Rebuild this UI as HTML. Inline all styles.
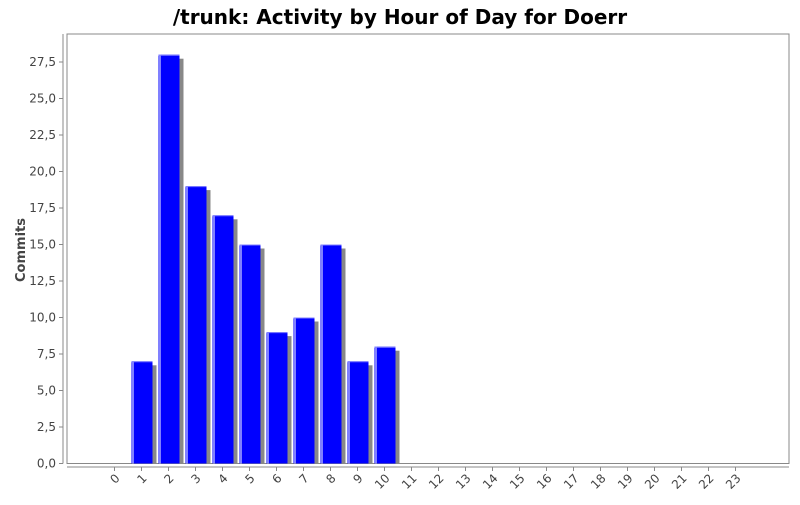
<!DOCTYPE html>
<html><head><meta charset="utf-8"><style>
body{margin:0;background:#fff;font-family:"Liberation Sans",sans-serif}
</style></head><body>
<svg id="c" width="800" height="500" xmlns="http://www.w3.org/2000/svg">
<text x="400" y="24" text-anchor="middle" font-size="20" font-weight="bold" font-family="DejaVu Sans, sans-serif">/trunk: Activity by Hour of Day for Doerr</text>
<text transform="translate(25,250) rotate(-90)" text-anchor="middle" font-size="13" font-weight="bold" fill="#444" font-family="DejaVu Sans, sans-serif">Commits</text>
<rect x="67" y="34" width="722" height="429.5" fill="#fff" stroke="#888"/>
<g id="g"></g>
</svg>
<script>
const categories=["0","1","2","3","4","5","6","7","8","9","10","11","12","13","14","15","16","17","18","19","20","21","22","23"];
const commits=[0,7,28,19,17,15,9,10,15,7,8,0,0,0,0,0,0,0,0,0,0,0,0,0];
const yTicks=[0,2.5,5,7.5,10,12.5,15,17.5,20,22.5,25,27.5];
const NS="http://www.w3.org/2000/svg";
const g=document.getElementById('g');
const y0=463.5, yS=(463.5-62)/27.5;
const yf=v=>y0-v*yS;
const xf=i=>114.5+i*27;
function el(t,a){const e=document.createElementNS(NS,t);for(const k in a)e.setAttribute(k,a[k]);g.appendChild(e);return e;}
let ax=el('line',{x1:63,y1:34,x2:63,y2:463.5,stroke:'#888'});


let bx=el('line',{x1:67,y1:467,x2:789,y2:467,stroke:'#888'});


yTicks.forEach(v=>{
 const y=yf(v);
 el('line',{x1:59,y1:y,x2:63,y2:y,stroke:'#888'});
 const t=el('text',{x:56,y:y+4,'text-anchor':'end','font-size':12,fill:'#444','font-family':'DejaVu Sans, sans-serif'});
 t.textContent=v.toFixed(1).replace('.',',');
 
 
});
categories.forEach((c,i)=>{
 const x=xf(i);
 el('line',{x1:x,y1:467,x2:x,y2:471,stroke:'#888'});
 const t=el('text',{x:x+6,y:479,'text-anchor':'end','font-size':12,fill:'#444','font-family':'DejaVu Sans, sans-serif',transform:`rotate(-45 ${x+6} 479)`});
 t.textContent=c;
 
 
 const v=commits[i];
 if(v>0){
  const top=yf(v),l=x-10,w=21;
  el('rect',{x:l+4,y:top+4,width:w,height:y0-top-4,fill:'#888'});
  const b=el('rect',{x:l,y:top,width:w,height:y0-top,fill:'#0000ff'});
  
  
  el('line',{x1:l+1.5,y1:top,x2:l+1.5,y2:y0,stroke:'#fff','stroke-width':1});
  el('line',{x1:l,y1:top+0.5,x2:l+w,y2:top+0.5,stroke:'#8080ff','stroke-width':1});
 }
});
</script>
</body></html>
